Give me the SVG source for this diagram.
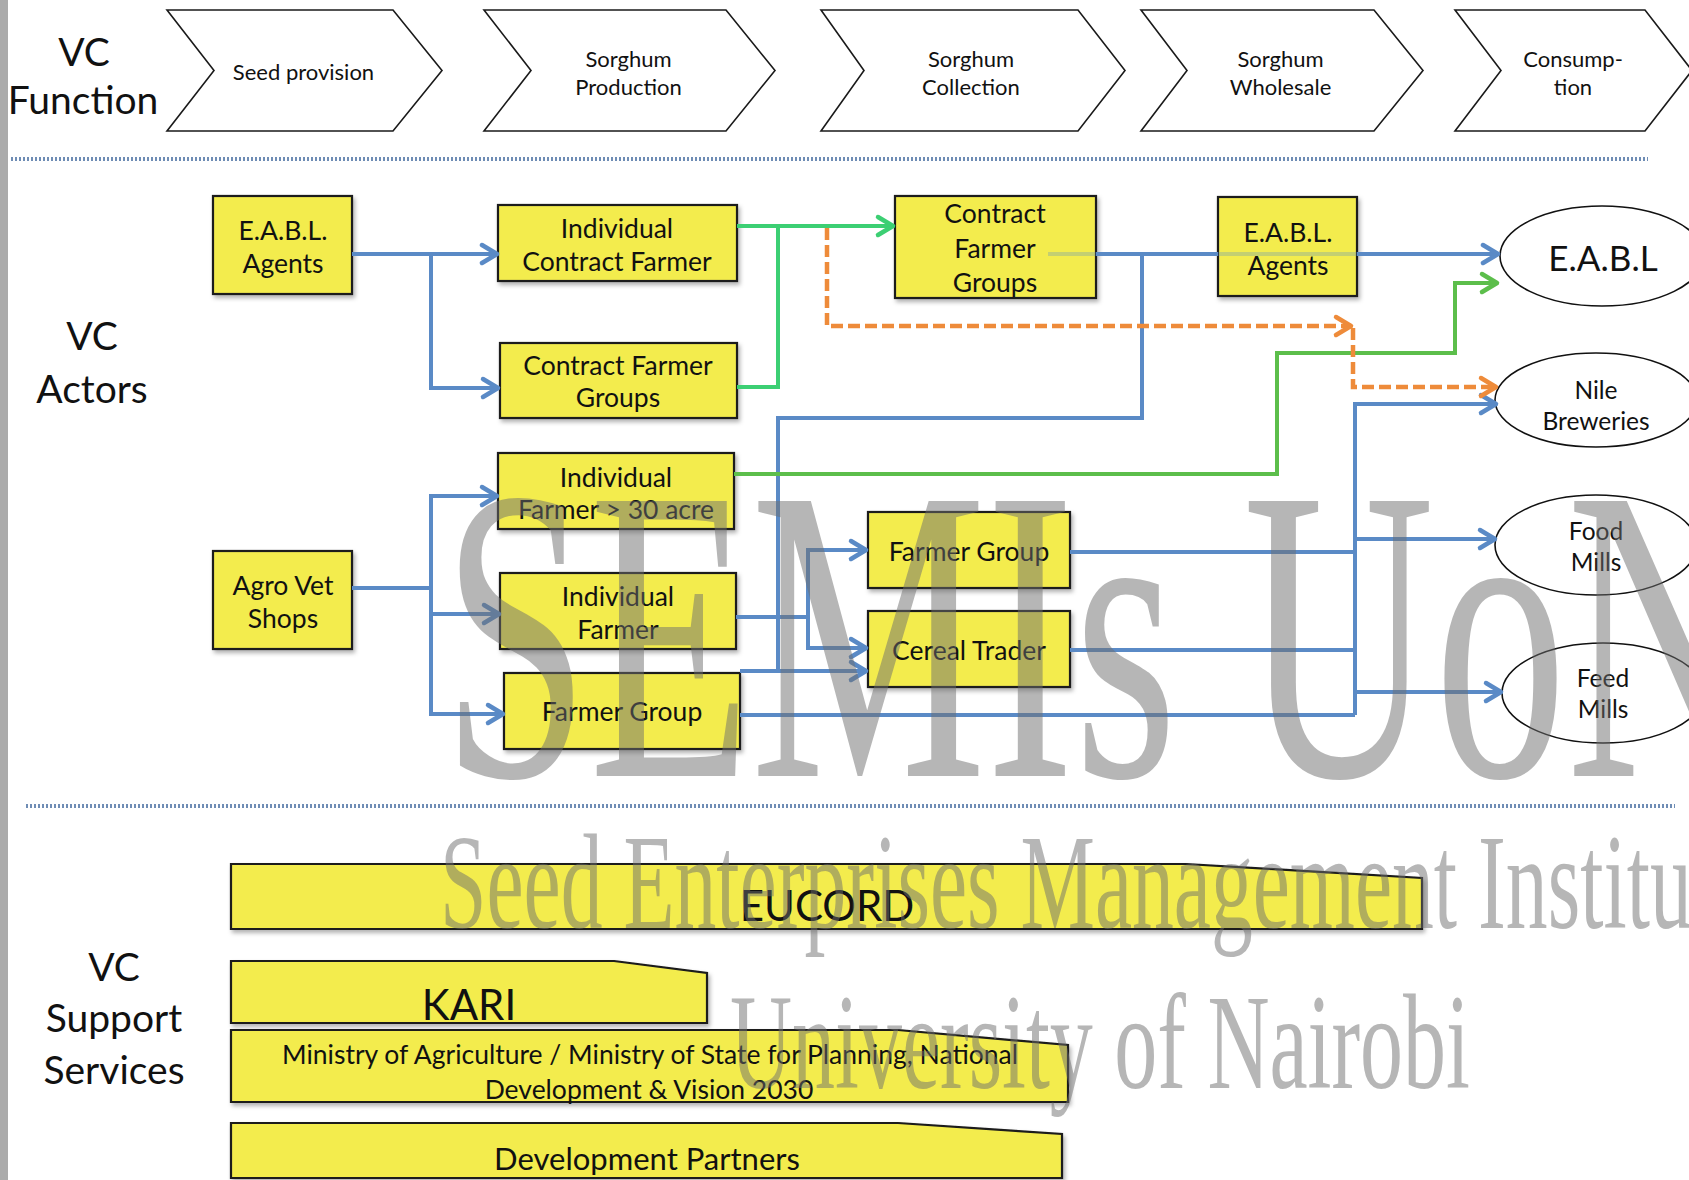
<svg xmlns="http://www.w3.org/2000/svg" width="1689" height="1180" viewBox="0 0 1689 1180">
<defs>
<style>
.t{font-family:Lato,"Open Sans","Liberation Sans",sans-serif;text-anchor:middle;fill:#111}
.vc{font-size:39px}
.ch{font-size:22px}
.bx{font-size:26.5px}
.el{font-size:24.5px}
.big{font-size:42px}
.sup{font-size:26.5px}
.chev{fill:#fff;stroke:#1a1a1a;stroke-width:1.6}
.box{fill:#F3EC4E;stroke:#1a1a1a;stroke-width:2.2;filter:url(#sh)}
.ell{fill:#fff;stroke:#111;stroke-width:1.6}
.sep{stroke:#6f8db5;stroke-width:4;stroke-dasharray:2 2;fill:none}
.b{fill:none;stroke:#5A8AC6;stroke-width:4}
.bf{fill:none;stroke:#5A8AC6;stroke-width:4;stroke-opacity:.3}
.g1{fill:none;stroke:#3CCF73;stroke-width:4}
.g2{fill:none;stroke:#5CBE4B;stroke-width:4}
.o{fill:none;stroke:#EE8B3A;stroke-width:4.5;stroke-dasharray:12 5}
.wm{font-family:"Liberation Serif","Times New Roman",serif;fill:#6e6e6e;fill-opacity:.5}
</style>
<filter id="sh" x="-10%" y="-10%" width="130%" height="140%"><feDropShadow dx="2" dy="3" stdDeviation="2" flood-color="#000" flood-opacity="0.3"/></filter>
<marker id="ab" viewBox="0 0 20 20" refX="17" refY="10" markerWidth="20" markerHeight="20" markerUnits="userSpaceOnUse" orient="auto" overflow="visible"><path d="M2,1 L17,10 L2,19" fill="none" stroke="#5A8AC6" stroke-width="4.5" stroke-linejoin="round" stroke-linecap="round"/></marker>
<marker id="ag1" viewBox="0 0 20 20" refX="17" refY="10" markerWidth="20" markerHeight="20" markerUnits="userSpaceOnUse" orient="auto" overflow="visible"><path d="M2,1 L17,10 L2,19" fill="none" stroke="#3CCF73" stroke-width="4.5" stroke-linejoin="round" stroke-linecap="round"/></marker>
<marker id="ag2" viewBox="0 0 20 20" refX="17" refY="10" markerWidth="20" markerHeight="20" markerUnits="userSpaceOnUse" orient="auto" overflow="visible"><path d="M2,1 L17,10 L2,19" fill="none" stroke="#5CBE4B" stroke-width="4.5" stroke-linejoin="round" stroke-linecap="round"/></marker>
<marker id="ao" viewBox="0 0 20 20" refX="17" refY="10" markerWidth="20" markerHeight="20" markerUnits="userSpaceOnUse" orient="auto" overflow="visible"><path d="M2,1 L17,10 L2,19" fill="none" stroke="#EE8B3A" stroke-width="4.5" stroke-linejoin="round" stroke-linecap="round"/></marker>
</defs>
<rect width="1689" height="1180" fill="#fff"/>
<rect x="0" y="0" width="8" height="1180" fill="#ababab"/>

<g id="labels">
<text class="t vc" x="84" y="66">VC</text>
<text class="t vc" x="83" y="114">Function</text>
<text class="t vc" x="92" y="350">VC</text>
<text class="t vc" x="92" y="403">Actors</text>
<text class="t vc" x="114" y="981">VC</text>
<text class="t vc" x="114" y="1032">Support</text>
<text class="t vc" x="114" y="1084">Services</text>
</g>

<g id="separators">
<line class="sep" x1="11" y1="159" x2="1648" y2="159"/>
<line class="sep" x1="26" y1="806" x2="1675" y2="806"/>
</g>

<g id="f-seed"><polygon class="chev" points="167,10 393,10 442,70.5 393,131 167,131 214,70.5"/><text class="t ch" x="303.5" y="80">Seed provision</text></g>
<g id="f-production"><polygon class="chev" points="484,10 726,10 775,70.5 726,131 484,131 531,70.5"/><text class="t ch" x="628.5" y="67">Sorghum</text><text class="t ch" x="628.5" y="95">Production</text></g>
<g id="f-collection"><polygon class="chev" points="821,10 1078,10 1125,70.5 1078,131 821,131 864,70.5"/><text class="t ch" x="971" y="67">Sorghum</text><text class="t ch" x="971" y="95">Collection</text></g>
<g id="f-wholesale"><polygon class="chev" points="1141,10 1374,10 1423,70.5 1374,131 1141,131 1187,70.5"/><text class="t ch" x="1280.5" y="67">Sorghum</text><text class="t ch" x="1280.5" y="95">Wholesale</text></g>
<g id="f-consumption"><polygon class="chev" points="1455,10 1645,10 1692,70.5 1645,131 1455,131 1501,70.5"/><text class="t ch" x="1573" y="67">Consump-</text><text class="t ch" x="1573" y="95">tion</text></g>

<g id="n-eabl-agents-1"><rect class="box" x="213" y="196" width="139" height="98"/><text class="t bx" x="283" y="240">E.A.B.L.</text><text class="t bx" x="283" y="273">Agents</text></g>
<g id="n-ind-contract-farmer"><rect class="box" x="498" y="205" width="239" height="76"/><text class="t bx" x="617" y="238">Individual</text><text class="t bx" x="617" y="271">Contract Farmer</text></g>
<g id="n-contract-farmer-groups-1"><rect class="box" x="500" y="343" width="237" height="75"/><text class="t bx" x="618" y="375">Contract Farmer</text><text class="t bx" x="618" y="407">Groups</text></g>
<g id="n-ind-farmer-30"><rect class="box" x="498" y="453" width="236" height="76"/><text class="t bx" x="616" y="487">Individual</text><text class="t bx" x="616" y="519">Farmer &gt; 30 acre</text></g>
<g id="n-agro-vet"><rect class="box" x="213" y="551" width="139" height="98"/><text class="t bx" x="283" y="595">Agro Vet</text><text class="t bx" x="283" y="628">Shops</text></g>
<g id="n-ind-farmer"><rect class="box" x="500" y="573" width="236" height="76"/><text class="t bx" x="618" y="606">Individual</text><text class="t bx" x="618" y="639">Farmer</text></g>
<g id="n-farmer-group-1"><rect class="box" x="504" y="673" width="236" height="76"/><text class="t bx" x="622" y="721">Farmer Group</text></g>
<g id="n-contract-farmer-groups-2"><rect class="box" x="895" y="196" width="201" height="102"/><text class="t bx" x="995" y="223">Contract</text><text class="t bx" x="995" y="258">Farmer</text><text class="t bx" x="995" y="292">Groups</text></g>
<g id="n-eabl-agents-2"><rect class="box" x="1218" y="197" width="139" height="99"/><text class="t bx" x="1288" y="242">E.A.B.L.</text><text class="t bx" x="1288" y="275">Agents</text></g>
<g id="n-farmer-group-2"><rect class="box" x="868" y="512" width="202" height="76"/><text class="t bx" x="969" y="561">Farmer Group</text></g>
<g id="n-cereal-trader"><rect class="box" x="868" y="611" width="202" height="76"/><text class="t bx" x="969" y="660">Cereal Trader</text></g>
<g id="n-eabl"><ellipse class="ell" cx="1602" cy="256" rx="102" ry="50"/><text class="t" style="font-size:35px" x="1603" y="271">E.A.B.L</text></g>
<g id="n-nile"><ellipse class="ell" cx="1596" cy="400" rx="101" ry="47"/><text class="t el" x="1596" y="399">Nile</text><text class="t el" x="1596" y="430">Breweries</text></g>
<g id="n-food"><ellipse class="ell" cx="1596" cy="545" rx="101" ry="50"/><text class="t el" x="1596" y="540">Food</text><text class="t el" x="1596" y="571">Mills</text></g>
<g id="n-feed"><ellipse class="ell" cx="1603" cy="693" rx="101" ry="50"/><text class="t el" x="1603" y="687">Feed</text><text class="t el" x="1603" y="718">Mills</text></g>

<g id="s-eucord"><path class="box" d="M231,864 H1186 L1422,878 V929 H231 Z"/><text class="t big" x="827" y="921">EUCORD</text></g>
<g id="s-kari"><path class="box" d="M231,961 H614 L707,973 V1023 H231 Z"/><text class="t big" x="469" y="1020">KARI</text></g>
<g id="s-ministry"><path class="box" d="M231,1030 H898 L1068,1045 V1102 H231 Z"/><text class="t sup" x="650" y="1064">Ministry of Agriculture / Ministry of State for Planning, National</text><text class="t sup" x="649" y="1099">Development &amp; Vision 2030</text></g>
<g id="s-devpartners"><path class="box" d="M231,1123 H898 L1062,1134 V1178 H231 Z"/><text class="t" style="font-size:31px" x="647" y="1170">Development Partners</text></g>

<g id="connectors">
<path class="b" d="M352,254 H497" marker-end="url(#ab)"/>
<path class="b" d="M431,254 V388 H498" marker-end="url(#ab)"/>
<path class="b" d="M352,588 H431"/>
<path class="b" d="M431,614 V496 H497" marker-end="url(#ab)"/>
<path class="b" d="M431,588 V614 H499" marker-end="url(#ab)"/>
<path class="b" d="M431,614 V714 H503" marker-end="url(#ab)"/>
<path class="bf" d="M1048,254 H1096 M1218,254 H1357"/>
<path class="b" d="M1096,254 H1218"/>
<path class="b" d="M1357,254 H1498" marker-end="url(#ab)"/>
<path class="b" d="M1142,254 V418 H778 V671"/>
<path class="b" d="M736,617 H808"/>
<path class="b" d="M808,617 V550 H866" marker-end="url(#ab)"/>
<path class="b" d="M808,617 V648 H866" marker-end="url(#ab)"/>
<path class="b" d="M740,671 H866" marker-end="url(#ab)"/>
<path class="b" d="M740,715 H1355"/>
<path class="b" d="M1070,552 H1355"/>
<path class="b" d="M1070,650 H1355"/>
<path class="b" d="M1355,715 V404 H1496" marker-end="url(#ab)"/>
<path class="b" d="M1355,539 H1495" marker-end="url(#ab)"/>
<path class="b" d="M1355,692 H1501" marker-end="url(#ab)"/>
<path class="g1" d="M737,226 H893" marker-end="url(#ag1)"/>
<path class="g1" d="M737,387 H778 V226"/>
<path class="g2" d="M734,474 H1277 V353 H1455 V283 H1497" marker-end="url(#ag2)"/>
<path class="o" d="M827,228 V326 H1351" marker-end="url(#ao)"/>
<path class="o" d="M1353,328 V387 H1496" marker-end="url(#ao)"/>
</g>

<g id="watermark">
<text class="wm" transform="translate(442,776) scale(0.63,1)" font-size="420">SEMIs UoN</text>
<text class="wm" transform="translate(440,928) scale(0.615,1)" font-size="136">Seed Enterprises Management Institute</text>
<text class="wm" transform="translate(730,1088) scale(0.632,1)" font-size="136">University of Nairobi</text>
</g>
</svg>
